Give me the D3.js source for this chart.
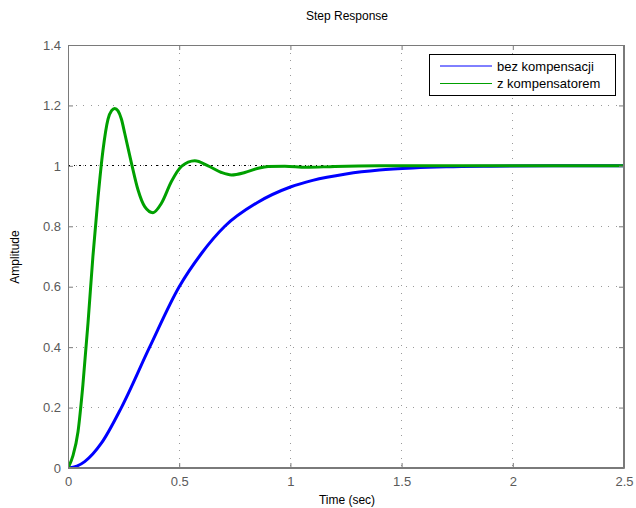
<!DOCTYPE html>
<html><head><meta charset="utf-8">
<script src="https://cdn.jsdelivr.net/npm/d3@7"></script>
<style>body{margin:0;background:#fff}svg{display:block}text{font-family:"Liberation Sans",Arial,sans-serif}</style>
</head><body>
<svg id="c" width="636" height="508"></svg>
<script>
const xTicks=[0,0.5,1,1.5,2,2.5];
const xTickLabels=["0","0.5","1","1.5","2","2.5"];
const yTicks=[0,0.2,0.4,0.6,0.8,1,1.2,1.4];
const yTickLabels=["0","0.2","0.4","0.6","0.8","1","1.2","1.4"];
const seriesNames=["bez kompensacji","z kompensatorem"];
const blueT=[0,0.04,0.075,0.15,0.24,0.367,0.5,0.6,0.705,0.85,1.0,1.1,1.25,1.4,1.55,1.7,1.9,2.2,2.5];
const blueY=[0,0.006,0.021,0.082,0.2,0.4,0.6,0.71,0.8,0.878,0.93,0.952,0.973,0.986,0.993,0.997,0.999,1.0,1.0];
const greenT=[0,0.022,0.045,0.067,0.09,0.112,0.135,0.157,0.18,0.196,0.21,0.225,0.24,0.255,0.285,0.315,0.345,0.382,0.42,0.465,0.51,0.57,0.63,0.69,0.735,0.795,0.855,0.9,0.975,1.07,1.2,1.4,1.7,2.0,2.5];
const greenY=[0,0.04,0.12,0.275,0.48,0.70,0.895,1.05,1.155,1.183,1.19,1.182,1.155,1.108,1.01,0.92,0.865,0.845,0.876,0.948,0.998,1.017,1.0,0.978,0.97,0.978,0.992,0.998,0.999,0.995,0.998,1.0,1.0,1.0,1.0];

const L=68,R=624,T=45,B=468;
const svg=d3.select("#c");
const x=d3.scaleLinear().domain([0,2.5]).range([L,R]);
const y=d3.scaleLinear().domain([0,1.4]).range([B,T]);
const axisCol="#7a7a7a", labCol="#5a5a5a";

// grid
const g=svg.append("g");
g.selectAll(".gx").data(xTicks.slice(1,-1)).join("line")
 .attr("x1",d=>x(d)).attr("x2",d=>x(d)).attr("y1",T).attr("y2",B)
 .attr("stroke","#9a9a9a").attr("stroke-width",1).attr("stroke-dasharray","1,6.5").attr("shape-rendering","crispEdges");
g.selectAll(".gy").data(yTicks.slice(1,-1)).join("line")
 .attr("x1",L).attr("x2",R).attr("y1",d=>y(d)).attr("y2",d=>y(d))
 .attr("stroke","#9a9a9a").attr("stroke-width",1).attr("stroke-dasharray","1,6.5").attr("shape-rendering","crispEdges");
// steady-state line
svg.append("line").attr("x1",L).attr("x2",R).attr("y1",y(1)).attr("y2",y(1))
 .attr("stroke","#000").attr("stroke-width",1).attr("stroke-dasharray","1.5,4").attr("shape-rendering","crispEdges");

// curves
const lineC=d3.line().x(d=>x(d[0])).y(d=>y(d[1])).curve(d3.curveMonotoneX);
svg.append("clipPath").attr("id","cp").append("rect").attr("x",L).attr("y",T).attr("width",R-L).attr("height",B-T);
svg.append("path").datum(blueT.map((t,i)=>[t,blueY[i]])).attr("d",lineC)
 .attr("fill","none").attr("stroke","#0000ff").attr("stroke-width",3).attr("clip-path","url(#cp)");
svg.append("path").datum(greenT.map((t,i)=>[t,greenY[i]])).attr("d",lineC)
 .attr("fill","none").attr("stroke","#00a000").attr("stroke-width",3).attr("clip-path","url(#cp)");

// axes
const axB=svg.append("g").attr("transform",`translate(0,${B})`)
 .call(d3.axisBottom(x).tickValues(xTicks).tickFormat((d,i)=>xTickLabels[i]).tickSizeInner(-5).tickSizeOuter(0).tickPadding(9));
const axT=svg.append("g").attr("transform",`translate(0,${T})`)
 .call(d3.axisTop(x).tickValues(xTicks).tickFormat("").tickSizeInner(-5).tickSizeOuter(0));
const axL=svg.append("g").attr("transform",`translate(${L},0)`)
 .call(d3.axisLeft(y).tickValues(yTicks).tickFormat((d,i)=>yTickLabels[i]).tickSizeInner(-5).tickSizeOuter(0).tickPadding(7));
const axR=svg.append("g").attr("transform",`translate(${R},0)`)
 .call(d3.axisRight(y).tickValues(yTicks).tickFormat("").tickSizeInner(-5).tickSizeOuter(0));
[axB,axT,axL,axR].forEach(a=>{
  a.select(".domain").attr("stroke",axisCol);
  a.selectAll(".tick line").attr("stroke",axisCol);
  a.selectAll(".tick text").attr("fill",labCol).style("font-size","13px").style("font-family",'"Liberation Sans",Arial,sans-serif');
});
svg.append("rect").attr("x",L+0.5).attr("y",T+0.5).attr("width",R-L-1).attr("height",B-T-1)
 .attr("fill","none").attr("stroke",axisCol).attr("stroke-width",1);

// labels
svg.append("text").attr("x",347).attr("y",20).attr("text-anchor","middle").style("font-size","12px").attr("fill","#000").text("Step Response");
svg.append("text").attr("x",347).attr("y",504).attr("text-anchor","middle").style("font-size","12px").attr("fill","#000").text("Time (sec)");
svg.append("text").attr("transform","translate(19,257) rotate(-90)").attr("text-anchor","middle").style("font-size","12px").attr("fill","#000").text("Amplitude");

// legend
const lg=svg.append("g");
lg.append("rect").attr("x",429.5).attr("y",54.5).attr("width",186).attr("height",41).attr("fill","#fff").attr("stroke","#000").attr("stroke-width",1);
const cols=["#0000ff","#00a000"];
seriesNames.forEach((n,i)=>{
  const yy=66+i*17.5;
  lg.append("line").attr("x1",440).attr("x2",492).attr("y1",yy).attr("y2",yy).attr("stroke",cols[i]).attr("stroke-width",1);
  lg.append("text").attr("x",497).attr("y",yy+4.5).style("font-size","13px").attr("fill","#000").text(n);
});
</script>
</body></html>
